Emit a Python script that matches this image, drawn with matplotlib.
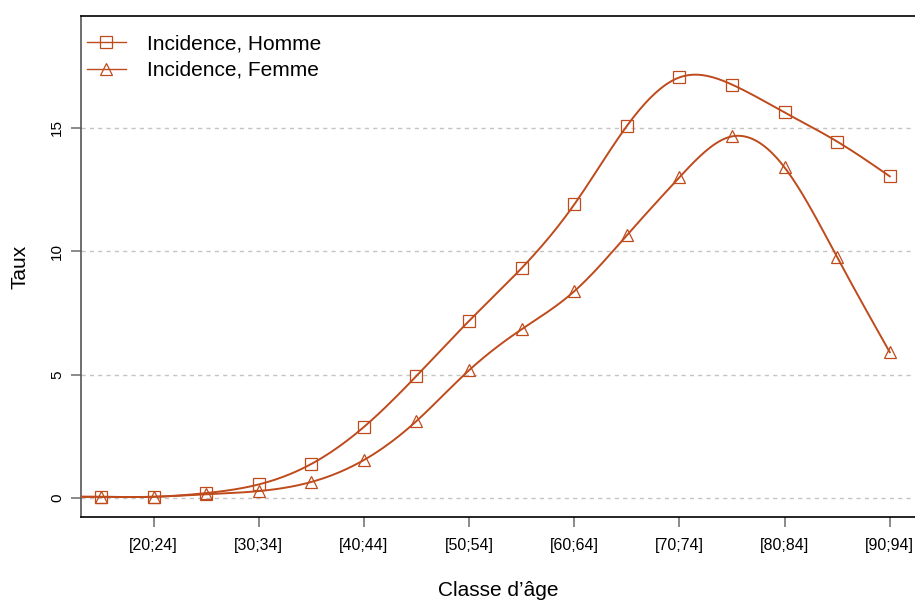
import numpy as np
import matplotlib

matplotlib.use("Agg")
import matplotlib.pyplot as plt

# Incidence par classe d'âge quinquennale (15-19 ... 90-94)
classes = ["[15;19]", "[20;24]", "[25;29]", "[30;34]", "[35;39]", "[40;44]",
           "[45;49]", "[50;54]", "[55;59]", "[60;64]", "[65;69]", "[70;74]",
           "[75;79]", "[80;84]", "[85;89]", "[90;94]"]
homme = [0.05, 0.05, 0.2, 0.55, 1.38, 2.88, 4.95, 7.18, 9.32, 11.9,
         15.08, 17.05, 16.76, 15.63, 14.45, 13.04]
femme = [0.05, 0.05, 0.15, 0.28, 0.65, 1.54, 3.12, 5.18, 6.84, 8.38,
         10.65, 13.0, 14.66, 13.4, 9.76, 5.91]

COL = "#bf4a1c"


def spline(x, y, n=300):
    """Spline cubique naturelle (équivalent simple de spline() de R)."""
    x = np.asarray(x, float)
    y = np.asarray(y, float)
    m = len(x)
    h = np.diff(x)
    A = np.zeros((m, m))
    b = np.zeros(m)
    A[0, 0] = A[-1, -1] = 1.0
    for i in range(1, m - 1):
        A[i, i - 1] = h[i - 1]
        A[i, i] = 2 * (h[i - 1] + h[i])
        A[i, i + 1] = h[i]
        b[i] = 3 * ((y[i + 1] - y[i]) / h[i] - (y[i] - y[i - 1]) / h[i - 1])
    c = np.linalg.solve(A, b)
    bb = np.diff(y) / h - h * (2 * c[:-1] + c[1:]) / 3
    d = np.diff(c) / (3 * h)
    xs = np.linspace(x[0], x[-1], n)
    k = np.clip(np.searchsorted(x, xs) - 1, 0, m - 2)
    t = xs - x[k]
    ys = y[k] + bb[k] * t + c[k] * t ** 2 + d[k] * t ** 3
    return xs, ys


plt.rcParams["font.family"] = ["Liberation Sans", "DejaVu Sans"]

fig = plt.figure(figsize=(9.15, 6.01), dpi=100)
ax = fig.add_axes([81 / 915, 84 / 601, (915 - 81) / 915, (517 - 16) / 601])

x = np.arange(1, len(classes) + 1)
xmin, xmax = 0.62, 16.48
ax.set_xlim(xmin, xmax)
ax.set_ylim(-0.77, 19.54)

for vals, mk, ms, lab in [(homme, "s", 8, "Incidence, Homme"),
                          (femme, "^", 9, "Incidence, Femme")]:
    xs, ys = spline(x, vals)
    ax.plot(np.r_[xmin, xs], np.r_[vals[0], ys], color=COL, lw=1.4, zorder=3)
    ax.plot(x, vals, linestyle="none", marker=mk, ms=ms, mfc="none",
            mec=COL, mew=0.9, zorder=4)
    ax.plot([], [], color=COL, lw=1.0, marker=mk, ms=ms, mfc="none",
            mec=COL, mew=0.9, label=lab)

for yv in [0, 5, 10, 15]:
    ax.axhline(yv, color="#c4c4c4", lw=1.0, ls=(0, (3, 3)), zorder=1)

ax.set_yticks([0, 5, 10, 15])
ax.set_yticklabels(["0", "5", "10", "15"], rotation=90, va="center", fontsize=11)
ax.set_xticks(x[1::2])
ax.set_xticklabels(classes[1::2], fontsize=11.5)
ax.tick_params(axis="both", length=7, width=1.2, color="#777777", pad=8)
ax.tick_params(axis="y", pad=5)

ax.spines["right"].set_visible(False)
ax.spines["left"].set_color("#555555")
ax.spines["left"].set_linewidth(1.2)
for s in ["top", "bottom"]:
    ax.spines[s].set_linewidth(1.2)

ax.set_ylabel("Taux", fontsize=15, labelpad=15)
ax.set_xlabel("Classe d’âge", fontsize=15, labelpad=20)

ax.legend(loc="upper left", bbox_to_anchor=(0.0024, 0.971), frameon=False,
          fontsize=15, handlelength=1.85, borderaxespad=0, borderpad=0.2,
          handletextpad=1.0, labelspacing=0.35)

fig.savefig("out.png", dpi=100)
